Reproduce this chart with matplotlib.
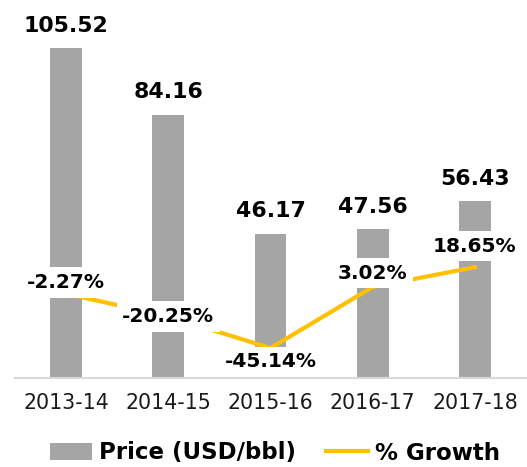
import matplotlib.pyplot as plt
import numpy as np

years = ["2013-14", "2014-15", "2015-16", "2016-17", "2017-18"]
price = [105.52, 84.16, 46.17, 47.56, 56.43]
growth = [-2.27, -20.25, -45.14, 3.02, 18.65]
growth_offsets = [8, 0, -10, 10, 15]  # label nudges in points (up = +)

bar_col = "#A5A5A5"
line_col = "#FFC000"

fig = plt.figure(figsize=(5.27, 4.67), dpi=100)
ax = fig.add_axes([15 / 527, 89 / 467, 511 / 527, 378 / 467])
x = np.arange(len(years))

ax.bar(x, price, width=0.31, color=bar_col, label="Price (USD/bbl)", zorder=2)
ax.set_xlim(-0.5, 4.5)
ax.set_ylim(0, 120.8)
ax.set_yticks([])
ax.set_xticks(x)
ax.set_xticklabels(years, fontsize=14.8, color="#1a1a1a")
ax.tick_params(axis="x", length=0, pad=11)
for s in ["top", "left", "right", "bottom"]:
    ax.spines[s].set_visible(False)

for xi, v in zip(x, price):
    ax.annotate(f"{v:.2f}", (xi, v), xytext=(0, 16), textcoords="offset points",
                ha="center", va="center", fontsize=15.8, fontweight="bold")

ax2 = ax.twinx()
ax2.plot(x, growth, color=line_col, linewidth=3, label="% Growth", zorder=2)
ax2.set_ylim(-68.8, 229.5)
ax2.set_yticks([])
for s in ["top", "left", "right"]:
    ax2.spines[s].set_visible(False)
# axis line kept above the label boxes
ax2.spines["bottom"].set_color("#d9d9d9")
ax2.spines["bottom"].set_linewidth(1.5)
ax2.spines["bottom"].set_zorder(5)

for xi, g, off in zip(x, growth, growth_offsets):
    ax2.annotate(f"{g:.2f}%", (xi, g), xytext=(0, off), textcoords="offset points",
                 ha="center", va="center", fontsize=14.5, fontweight="bold",
                 bbox=dict(boxstyle="square,pad=0.28", fc="white", ec="none"), zorder=3)

h1, l1 = ax.get_legend_handles_labels()
h2, l2 = ax2.get_legend_handles_labels()
fig.legend(h1 + h2, l1 + l2, loc="center", bbox_to_anchor=(275 / 527, 1 - 453 / 467),
           ncol=2, frameon=False, prop={"size": 16.5, "weight": "bold"},
           handlelength=1.85, handleheight=0.7, handletextpad=0.3, columnspacing=1.3)

plt.savefig("out.png", dpi=100)
